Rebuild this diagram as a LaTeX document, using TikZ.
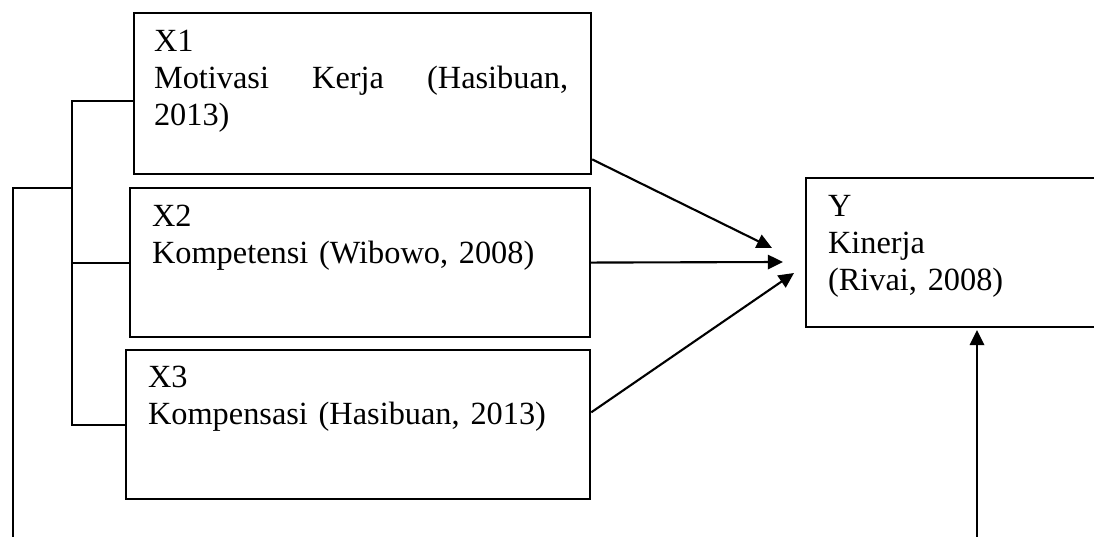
\documentclass[tikz,border=0pt]{standalone}
\usepackage{fontspec}
\setmainfont{Liberation Serif}
\usetikzlibrary{arrows.meta, calc}

\begin{document}
\begin{tikzpicture}[x=0.025cm, y=-0.025cm, line width=1.5pt,
    box/.style={draw, rectangle, inner sep=0pt, anchor=north west},
    txt/.style={inner sep=0pt, anchor=base west, align=left, text width=10.5cm,
                font=\fontsize{23}{26}\selectfont},
    arr/.style={-{Triangle[length=0.38cm, width=0.36cm]}}]

    % --- Frame ---
    \clip (0,0) rectangle (1094,537);

    % --- Boxes ---
    \node[box, minimum width=11.425cm, minimum height=4.025cm] (x1) at (133,12) {};
    \node[box, minimum width=11.5cm,   minimum height=3.725cm] (x2) at (129,187) {};
    \node[box, minimum width=11.6cm,   minimum height=3.725cm] (x3) at (125,349) {};
    \node[box, minimum width=7.5cm,    minimum height=3.725cm] (y)  at (805,177) {};

    % --- Texts ---
    \node[txt, text width=10.35cm] (t1) at (153,52)
        {X1\\Motivasi\hfill Kerja\hfill (Hasibuan,\\2013)};
    \node[txt] (t2) at (151,227) {X2\\Kompetensi (Wibowo, 2008)};
    \node[txt] (t3) at (147,388) {X3\\Kompensasi (Hasibuan, 2013)};
    \node[txt, text width=6cm] (ty) at (827,217) {Y\\Kinerja\\(Rivai, 2008)};

    % --- Arrow tips ---
    \coordinate (in1) at (772,248);
    \coordinate (in2) at (783,262);
    \coordinate (in3) at (794,273);
    \coordinate (in4) at (977,330);
    \coordinate (up)  at (977,540);

    % --- Arrows ---
    \draw[arr] (x1.-16) -- (in1);
    \draw[arr] (x2.east) -- (in2);
    \draw[arr] (x3.3) -- (in3);
    \draw[arr] (up) -- (in4);

    % --- Bracket ---
    \coordinate (bk)  at (72,0);
    \coordinate (mid) at (72,188);
    \coordinate (low) at (13,540);
    \draw ($(x1.west)+(0,7)$) -| (bk |- x3.west) -- (x3.west);
    \draw (x2.west) -- (bk |- x2.west);
    \draw (mid) -| (low);

\end{tikzpicture}
\end{document}
